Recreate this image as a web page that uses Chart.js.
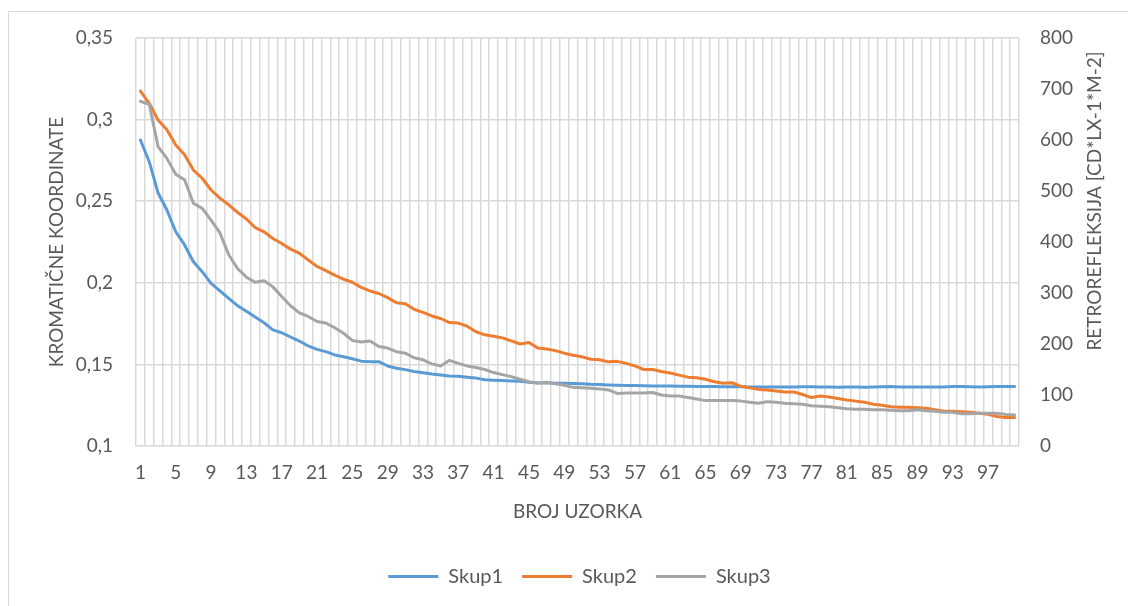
<!DOCTYPE html>
<html>
<head>
<meta charset="utf-8">
<script src="https://cdn.jsdelivr.net/npm/chart.js@4.4.1/dist/chart.umd.min.js"></script>
<style>
  html, body { margin: 0; padding: 0; background: #ffffff; overflow: hidden; }
  #frame { position: absolute; left: 8px; top: 11px; width: 1200px; height: 700px; border: 1px solid #d9d9d9; box-sizing: border-box; }
  #wrap { position: absolute; left: 0; top: 0; width: 1128px; height: 606px; }
</style>
</head>
<body>
<div id="frame"></div>
<div id="wrap"><canvas id="c" width="1128" height="606"></canvas></div>
<script>
const categories = Array.from({length: 100}, (_, i) => String(i + 1));
const seriesNames = ['Skup1', 'Skup2', 'Skup3'];
const skup1 = [0.2875,0.2742,0.255,0.2446,0.2313,0.2232,0.2129,0.2068,0.1997,0.195,
0.1905,0.186,0.1825,0.179,0.1755,0.1712,0.1694,0.1668,0.1643,0.1613,
0.1592,0.1578,0.1558,0.1547,0.1535,0.152,0.1517,0.1517,0.149,0.1476,
0.1468,0.1457,0.1449,0.1441,0.1435,0.1429,0.1427,0.1421,0.1416,0.1406,
0.1403,0.1401,0.1399,0.1397,0.139,0.1387,0.1386,0.1385,0.1384,0.1383,
0.1381,0.1378,0.1377,0.1374,0.1372,0.137,0.137,0.1369,0.1368,0.1368,
0.1367,0.1366,0.1366,0.1365,0.1364,0.1364,0.1363,0.1363,0.1363,0.1362,
0.1362,0.1362,0.1362,0.1361,0.1362,0.1363,0.1363,0.1362,0.1361,0.136,
0.1361,0.1361,0.136,0.1361,0.1363,0.1364,0.1362,0.1362,0.1362,0.1361,
0.1361,0.1362,0.1364,0.1364,0.1363,0.1362,0.1363,0.1364,0.1364,0.1364];
const skup2 = [696,672,639,620,590,571,541,525,502,486,
473,458,445,428,420,407,397,386,378,365,
352,344,335,327,321,311,304,299,291,281,
279,268,262,255,250,242,241,235,224,218,
215,212,206,200,203,192,190,187,182,178,
175,170,169,165,166,162,157,150,150,146,
143,139,135,134,131,126,123,124,117,114,
111,110,108,106,106,101,95,98,96,93,
90,88,86,82,80,77,76,76,75,74,
71,68,68,67,66,64,62,58,56,56];
const skup3 = [676,670,587,564,533,522,476,466,443,418,
375,348,331,321,324,312,293,275,261,254,
244,241,232,221,207,204,206,195,192,185,
182,173,169,161,157,168,162,157,154,150,
144,140,136,131,126,123,125,122,119,115,
114,113,112,110,103,104,104,104,105,100,
98,98,95,92,89,89,89,89,88,86,
84,87,86,84,83,82,79,78,77,75,
73,72,72,71,71,70,69,69,71,69,
68,66,66,63,63,64,64,64,62,61];
const leftTicks = [0.1, 0.15, 0.2, 0.25, 0.3, 0.35];
const rightTicks = [0, 100, 200, 300, 400, 500, 600, 700, 800];
const xTitle = 'BROJ UZORKA';
const leftTitle = 'KROMATIČNE KOORDINATE';
const rightTitle = 'RETROREFLEKSIJA [CD*LX-1*M-2]';

const FONT = 'Lato';
const TXT = '#595959';
const GRID = '#d9d9d9';

const rightTitlePlugin = {
  id: 'rightTitle',
  afterDraw(chart) {
    const {ctx, chartArea} = chart;
    ctx.save();
    ctx.translate(chartArea.right + 76, chartArea.top + 163);
    ctx.rotate(-Math.PI / 2);
    ctx.font = '19px ' + FONT;
    ctx.fillStyle = TXT;
    ctx.textAlign = 'center';
    ctx.textBaseline = 'middle';
    ctx.fillText(rightTitle, 0, 0);
    ctx.restore();
  }
};

const fmt = v => String(Math.round(v * 100) / 100).replace('.', ',');

new Chart(document.getElementById('c'), {
  type: 'line',
  data: {
    labels: categories,
    datasets: [
      { label: seriesNames[0], data: skup1, yAxisID: 'y', borderColor: '#5B9BD5', backgroundColor: '#5B9BD5', borderWidth: 3, order: 3 },
      { label: seriesNames[1], data: skup2, yAxisID: 'y1', borderColor: '#ED7D31', backgroundColor: '#ED7D31', borderWidth: 3, order: 2 },
      { label: seriesNames[2], data: skup3, yAxisID: 'y1', borderColor: '#A5A5A5', backgroundColor: '#A5A5A5', borderWidth: 3, order: 1 }
    ]
  },
  options: {
    responsive: false,
    animation: false,
    devicePixelRatio: 1,
    elements: {
      point: { radius: 0, hoverRadius: 0 },
      line: { borderWidth: 3, tension: 0, borderJoinStyle: 'round', borderCapStyle: 'round' }
    },
    layout: { autoPadding: false, padding: { left: 31, right: 0, top: 38, bottom: 9.6 } },
    plugins: {
      tooltip: { enabled: false },
      legend: {
        position: 'bottom',
        labels: {
          usePointStyle: true,
          pointStyle: 'line',
          pointStyleWidth: 50,
          padding: 19,
          color: TXT,
          font: { family: FONT, size: 20 },
          sort: (a, b) => a.datasetIndex - b.datasetIndex
        }
      }
    },
    scales: {
      x: {
        type: 'category',
        offset: true,
        grid: { offset: true, color: GRID, lineWidth: 1.5, drawTicks: false },
        border: { display: false },
        ticks: {
          autoSkip: false, maxRotation: 0, minRotation: 0, padding: 15,
          color: TXT, font: { family: FONT, size: 19 },
          callback: (v, i) => (i % 4 === 0 ? categories[i] : '')
        },
        title: { display: true, text: xTitle, color: TXT, font: { family: FONT, size: 19 }, padding: { top: 0, bottom: 24 } },
        afterFit: s => { s.height = 101.4; }
      },
      y: {
        position: 'left',
        min: 0.1, max: 0.35,
        afterBuildTicks: s => { s.ticks = leftTicks.map(v => ({ value: v })); },
        grid: { color: GRID, lineWidth: 1.5, drawTicks: false },
        border: { display: false },
        ticks: { padding: 23, color: TXT, font: { family: FONT, size: 19 }, callback: v => fmt(v) },
        title: { display: true, text: leftTitle, color: TXT, font: { family: FONT, size: 19 }, padding: { top: 14, bottom: 0 } },
        afterFit: s => { s.width = 105; }
      },
      y1: {
        position: 'right',
        min: 0, max: 800,
        afterBuildTicks: s => { s.ticks = rightTicks.map(v => ({ value: v })); },
        grid: { drawOnChartArea: false, drawTicks: false },
        border: { display: false },
        ticks: { padding: 21, color: TXT, font: { family: FONT, size: 19 } },
        afterFit: s => { s.width = 109; }
      }
    }
  },
  plugins: [rightTitlePlugin]
});
</script>
</body>
</html>
